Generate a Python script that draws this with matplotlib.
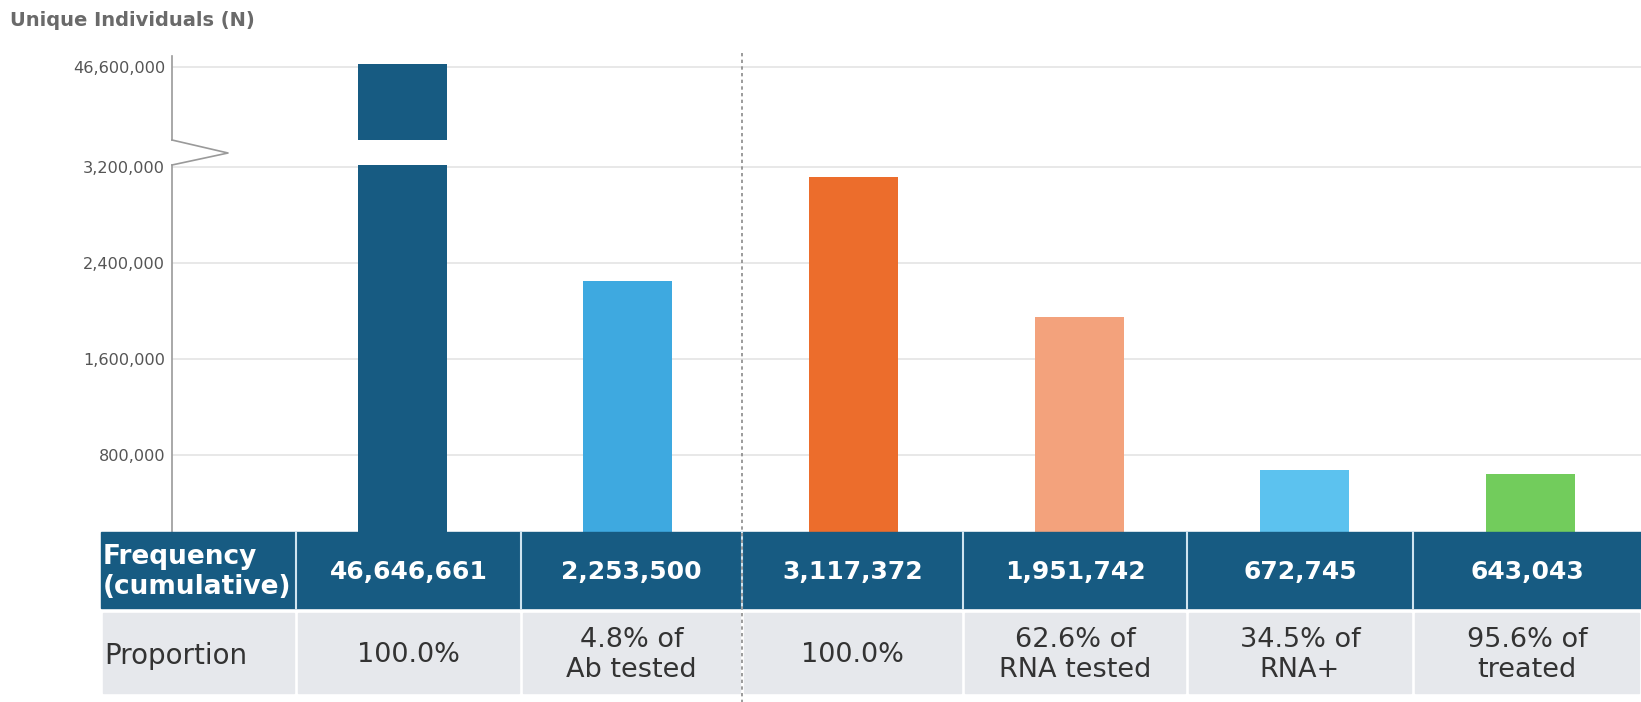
import matplotlib
matplotlib.use("Agg")
import matplotlib.pyplot as plt
from matplotlib.lines import Line2D
from matplotlib.patches import Rectangle

# canvas size in pixels (dpi 100)
W, H = 1641, 702

# data
frequency = [46646661, 2253500, 3117372, 1951742, 672745, 643043]
freq_labels = ["46,646,661", "2,253,500", "3,117,372", "1,951,742", "672,745", "643,043"]
proportion = ["100.0%", "4.8% of\nAb tested", "100.0%", "62.6% of\nRNA tested",
              "34.5% of\nRNA+", "95.6% of\ntreated"]
bar_colors = ["#175b82", "#3ea9e0", "#ec6d2c", "#f3a27c", "#5cc2ef", "#72cc5c"]
lower_ticks = [800000, 1600000, 2400000, 3200000]
upper_ticks = [46600000]

# table column edges (px)
col_edges = [296, 521, 742, 963, 1187, 1413, 1641]

fig = plt.figure(figsize=(W / 100, H / 100), dpi=100)
fig.patch.set_facecolor("white")


def px_rect(x0, y0, x1, y1):
    return [x0 / W, 1 - y1 / H, (x1 - x0) / W, (y1 - y0) / H]


ax_lo = fig.add_axes(px_rect(172, 165, W, 551))
ax_up = fig.add_axes(px_rect(172, 56, W, 140))

xs = list(range(len(frequency)))
for ax in (ax_lo, ax_up):
    ax.bar(xs, frequency, width=0.394, color=bar_colors, zorder=3)
    ax.set_xlim(-1.02, 5.49)
    for side in ("top", "right", "bottom"):
        ax.spines[side].set_visible(False)
    ax.spines["left"].set_color("#9a9a9a")
    ax.spines["left"].set_linewidth(1.2)
    ax.set_xticks([])
    ax.tick_params(axis="y", length=0, pad=5, labelsize=11.6, labelcolor="#555555")
    ax.grid(axis="y", color="#e4e4e4", linewidth=1.2, zorder=0)
    ax.set_facecolor("none")

ax_lo.set_ylim(0, 3.2167e6)
ax_lo.set_yticks(lower_ticks)
ax_lo.set_yticklabels([f"{t:,}" for t in lower_ticks])

ax_up.set_ylim(45.45e6, 46.78e6)
ax_up.set_yticks(upper_ticks)
ax_up.set_yticklabels([f"{t:,}" for t in upper_ticks])

# axis break marker
fig.add_artist(Line2D([172 / W, 228 / W, 172 / W],
                      [1 - 140 / H, 1 - 153 / H, 1 - 165 / H],
                      color="#9a9a9a", linewidth=1.2))

fig.text(10 / W, 1 - 21 / H, "Unique Individuals (N)", fontsize=14,
         fontweight="bold", color="#6a6a6a", va="center", ha="left")

# summary table under the bars
ax_t = fig.add_axes([0, 0, 1, 1], zorder=5)
ax_t.set_xlim(0, W)
ax_t.set_ylim(H, 0)
ax_t.axis("off")

dark = "#175b82"
ax_t.add_patch(Rectangle((101, 532), W - 101, 76, color=dark))
gray_x = [101] + col_edges
for x0, x1 in zip(gray_x[:-1], gray_x[1:]):
    ax_t.add_patch(Rectangle((x0 + 2, 613), x1 - x0 - 4, 80, color="#e6e8ec"))
for x in col_edges[:-1]:
    ax_t.plot([x, x], [532, 608], color="#cfe4f0", linewidth=1.5)

ax_t.text(103, 572, "Frequency\n(cumulative)", color="white", fontsize=19,
          fontweight="bold", ha="left", va="center", linespacing=1.22)
ax_t.text(104, 656, "Proportion", color="#333333", fontsize=20,
          ha="left", va="center")

for i, (fl, pr) in enumerate(zip(freq_labels, proportion)):
    cx = (col_edges[i] + col_edges[i + 1]) / 2
    ax_t.text(cx, 572, fl, color="white", fontsize=18, fontweight="bold",
              ha="center", va="center")
    ax_t.text(cx, 655, pr, color="#333333", fontsize=19.5, ha="center",
              va="center", linespacing=1.2)

# divider between the two groups
fig.add_artist(Line2D([742 / W, 742 / W], [1 - 53 / H, 0], color="#8a8a8a",
                      linewidth=1.2, linestyle=(0, (2, 2)), zorder=10))

fig.savefig("out.png", dpi=100)
